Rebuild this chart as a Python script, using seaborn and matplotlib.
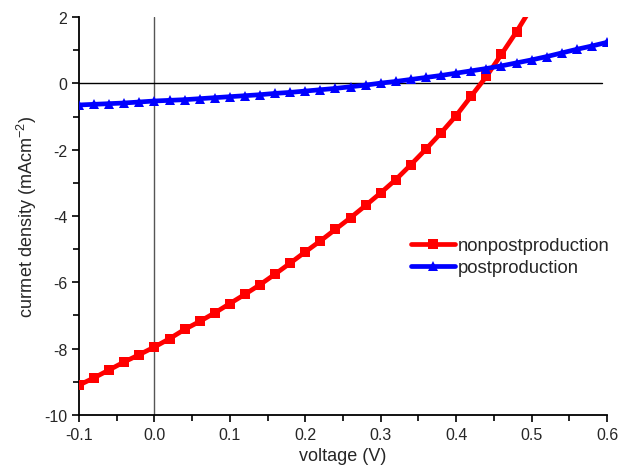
import numpy as np
import matplotlib
matplotlib.use("Agg")
import matplotlib.pyplot as plt
import seaborn as sb
from matplotlib.ticker import MultipleLocator

# voltage steps (V)
volt_red = [-0.10, -0.08, -0.06, -0.04, -0.02, 0.00, 0.02, 0.04, 0.06, 0.08,
            0.10, 0.12, 0.14, 0.16, 0.18, 0.20, 0.22, 0.24, 0.26, 0.28,
            0.30, 0.32, 0.34, 0.36, 0.38, 0.40, 0.42, 0.44, 0.46, 0.48, 0.50]
nonpost = [-9.10, -8.88, -8.64, -8.40, -8.18, -7.95, -7.70, -7.42, -7.18, -6.92,
           -6.64, -6.36, -6.07, -5.75, -5.42, -5.08, -4.75, -4.40, -4.05, -3.68,
           -3.30, -2.90, -2.45, -1.98, -1.49, -0.97, -0.38, 0.21, 0.88, 1.56, 2.30]

volt_blue = [-0.10, -0.08, -0.06, -0.04, -0.02, 0.00, 0.02, 0.04, 0.06, 0.08,
             0.10, 0.12, 0.14, 0.16, 0.18, 0.20, 0.22, 0.24, 0.26, 0.28,
             0.30, 0.32, 0.34, 0.36, 0.38, 0.40, 0.42, 0.44, 0.46, 0.48,
             0.50, 0.52, 0.54, 0.56, 0.58, 0.60]
post = [-0.65, -0.63, -0.61, -0.59, -0.56, -0.53, -0.51, -0.49, -0.46, -0.43,
        -0.40, -0.37, -0.34, -0.30, -0.27, -0.23, -0.19, -0.15, -0.10, -0.05,
        0.01, 0.06, 0.12, 0.18, 0.24, 0.31, 0.38, 0.45, 0.53, 0.62,
        0.71, 0.81, 0.92, 1.03, 1.13, 1.24]

sb.set_style("ticks")
plt.rcParams['font.family'] = ['Liberation Sans', 'DejaVu Sans']
plt.rcParams['axes.unicode_minus'] = False
plt.rcParams['mathtext.fontset'] = 'custom'
plt.rcParams['mathtext.rm'] = 'Liberation Sans'
plt.rcParams['mathtext.it'] = 'Liberation Sans'

fig = plt.figure(figsize=(6.22, 4.77), dpi=100)
ax = fig.add_axes([0.127, 0.128, 0.849, 0.834])

# reference lines through origin
ax.axvline(0, color='#555555', lw=1, zorder=1)
ax.axhline(0, xmin=0, xmax=0.99, color='black', lw=1, zorder=1)

sb.lineplot(x=volt_red, y=nonpost, ax=ax, color='red', lw=3.4, marker='s',
            markersize=6.5, markeredgewidth=0, label='nonpostproduction', zorder=3)
sb.lineplot(x=volt_blue, y=post, ax=ax, color='blue', lw=3.4, marker='^',
            markersize=7.5, markeredgewidth=0, label='postproduction', zorder=4)

ax.set_xlim(-0.1, 0.6)
ax.set_ylim(-10, 2)
ax.xaxis.set_minor_locator(MultipleLocator(0.05))
ax.yaxis.set_major_locator(MultipleLocator(2))
ax.yaxis.set_minor_locator(MultipleLocator(1))
ax.set_xticks(np.arange(-0.1, 0.61, 0.1))
ax.set_xticklabels(['-0.1', '0.0', '0.1', '0.2', '0.3', '0.4', '0.5', '0.6'])
ax.tick_params(which='major', length=5, width=1.2, labelsize=11.5, color='black')
ax.tick_params(which='minor', length=4, width=1.2, color='black')
for s in ['left', 'bottom']:
    ax.spines[s].set_linewidth(1.3)
    ax.spines[s].set_color('black')
sb.despine(ax=ax)

ax.set_xlabel("voltage (V)", fontsize=13)
ax.set_ylabel("currnet density (mAcm$^{-2}$)", fontsize=13)

ax.legend(loc='upper left', bbox_to_anchor=(0.615, 0.465), frameon=False,
          fontsize=13.3, handlelength=2.4, handletextpad=0.15, labelspacing=0.25,
          borderaxespad=0)

plt.savefig("out.png", dpi=100)
